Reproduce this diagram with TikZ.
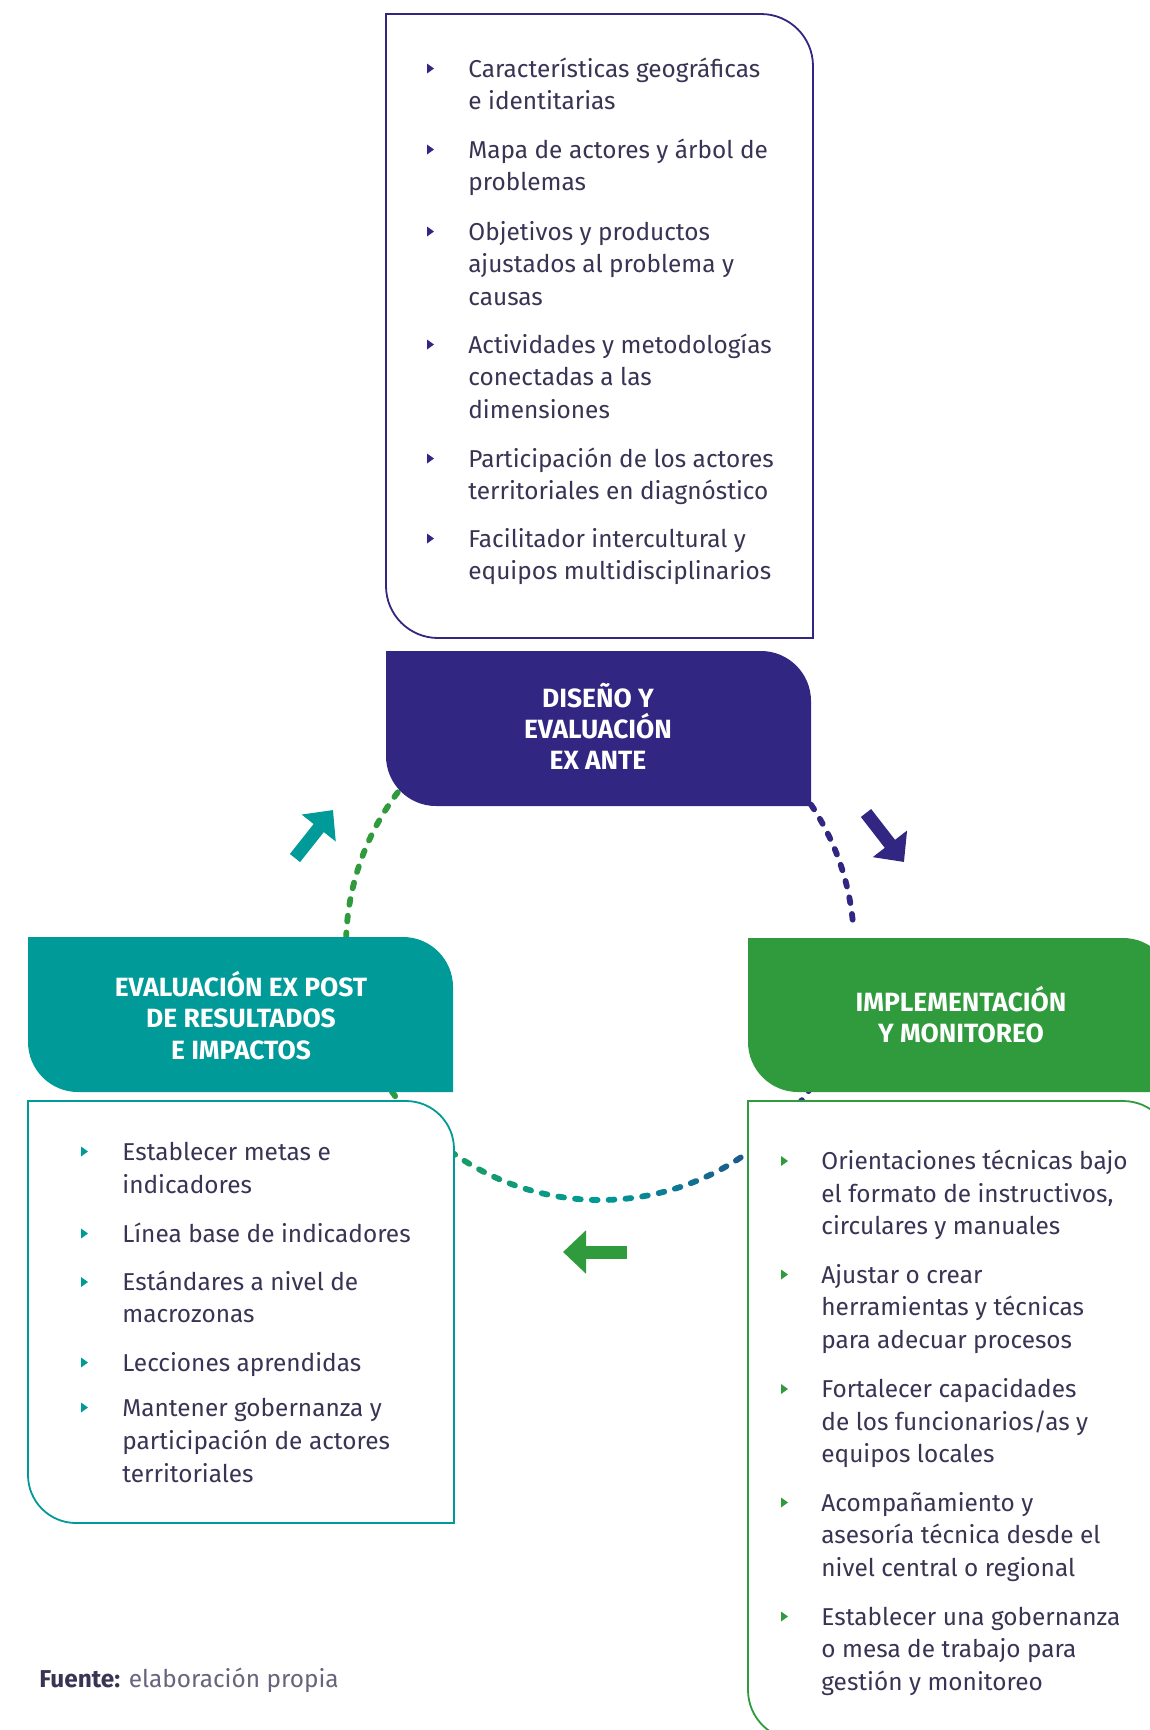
\documentclass[tikz,border=0pt]{standalone}
\usepackage{fontspec}
\setmainfont{Fira Sans}
\usetikzlibrary{calc,arrows.meta}
\definecolor{navyc}{RGB}{49,39,131}
\definecolor{tealc}{RGB}{0,154,152}
\definecolor{greenc}{RGB}{47,155,60}
\definecolor{txtc}{RGB}{58,52,84}
\definecolor{srcc}{RGB}{105,100,125}
\tikzset{
  bodytxt/.style={anchor=base west, inner sep=0pt, text=txtc, font=\fontsize{12.2}{15}\selectfont},
  titletxt/.style={anchor=base, inner sep=0pt, text=white, font=\fontsize{13.2}{15}\selectfont\bfseries},
  bul/.pic={\fill (-3,-5) -- (4,0) -- (-3,5) -- cycle;},
  cbox/.style={fill=white, line width=0.9pt},
  arr/.style={line width=6.5pt, -{Triangle[length=11.5pt,width=21pt]}},
  dotseg/.style={line width=2.9pt, line cap=round}
}
\begin{document}
\begin{tikzpicture}[x=0.5pt,y=-0.5pt]
\useasboundingbox (0,0) rectangle (1150,1730);
\clip (0,0) rectangle (1150,1730);
\fill[white] (0,0) rectangle (1150,1730);

% dotted cycle circle (behind boxes)
\coordinate (cc) at (600,946);
\foreach \a in {0,3.8,...,356.5}{
  \pgfmathsetmacro\ptt{max(0,min(100,(\a-30)/60*100))}
  \pgfmathsetmacro\pgg{max(0,min(100,(\a-90)/60*100))}
  \colorlet{tmpc}{tealc!\ptt!navyc}
  \colorlet{dotc}{greenc!\pgg!tmpc}
  \ifdim\a pt>260pt \colorlet{dotc}{navyc}\fi
  \draw[dotseg, dotc] ($(cc)+({\a-0.65}:254)$) -- ($(cc)+({\a+0.65}:254)$);
}

% top content box
\draw[cbox, draw=navyc] (386,14) -- (761,14) .. controls (789.7,14) and (813,37.3) .. (813,66) -- (813,638) -- (438,638) .. controls (409.3,638) and (386,614.7) .. (386,586) -- cycle;
% DISENO title
\fill[navyc] (386,651) -- (761,651) .. controls (788.6,651) and (811,673.4) .. (811,701) -- (811,806) -- (436,806) .. controls (408.4,806) and (386,783.6) .. (386,756) -- cycle;
% EVAL title
\fill[tealc] (28,937) -- (403,937) .. controls (430.6,937) and (453,959.4) .. (453,987) -- (453,1092) -- (78,1092) .. controls (50.4,1092) and (28,1069.6) .. (28,1042) -- cycle;
% EVAL content
\draw[cbox, draw=tealc] (28,1101) -- (406,1101) .. controls (432.5,1101) and (454,1122.5) .. (454,1149) -- (454,1523) -- (76,1523) .. controls (49.5,1523) and (28,1501.5) .. (28,1475) -- cycle;
% IMPL title
\fill[greenc] (748,938) -- (1123,938) .. controls (1150.6,938) and (1173,960.4) .. (1173,988) -- (1173,1092) -- (798,1092) .. controls (770.4,1092) and (748,1069.6) .. (748,1042) -- cycle;
% IMPL content
\draw[cbox, draw=greenc] (748,1101) -- (1123,1101) .. controls (1150.6,1101) and (1173,1123.4) .. (1173,1151) -- (1173,1740) -- (798,1740) .. controls (770.4,1740) and (748,1717.6) .. (748,1690) -- cycle;

% titles
\node[titletxt] (d1) at (598,707) {DISEÑO Y};
\node[titletxt] (d2) at (598,738) {EVALUACIÓN};
\node[titletxt] (d3) at (598,769) {EX ANTE};
\node[titletxt] (p1) at (241,996) {EVALUACIÓN EX POST};
\node[titletxt] (p2) at (241,1027) {DE RESULTADOS};
\node[titletxt] (p3) at (241,1059) {E IMPACTOS};
\node[titletxt] (m1) at (961,1011.5) {IMPLEMENTACIÓN};
\node[titletxt] (m2) at (961,1042) {Y MONITOREO};

% top list
\foreach \yy in {68.5,149.5,231.5,344.5,458.5,538.5} \pic[color=navyc] at (430,\yy) {bul};
\node[bodytxt] (a1) at (468,77) {Características geográficas};
\node[bodytxt] (a2) at (468,109.5) {e identitarias};
\node[bodytxt] (a3) at (468,158) {Mapa de actores y árbol de};
\node[bodytxt] (a4) at (468,190.5) {problemas};
\node[bodytxt] (a5) at (468,240) {Objetivos y productos};
\node[bodytxt] (a6) at (468,272.5) {ajustados al problema y};
\node[bodytxt] (a7) at (468,305) {causas};
\node[bodytxt] (a8) at (468,353) {Actividades y metodologías};
\node[bodytxt] (a9) at (468,385.5) {conectadas a las};
\node[bodytxt] (a10) at (468,418) {dimensiones};
\node[bodytxt] (a11) at (468,467) {Participación de los actores};
\node[bodytxt] (a12) at (468,499.5) {territoriales en diagnóstico};
\node[bodytxt] (a13) at (468,547) {Facilitador intercultural y};
\node[bodytxt] (a14) at (468,579.5) {equipos multidisciplinarios};

% eval list
\foreach \yy in {1151.5,1233.5,1282,1362.5,1407.5} \pic[color=tealc] at (84,\yy) {bul};
\node[bodytxt] (e1) at (122,1160) {Establecer metas e};
\node[bodytxt] (e2) at (122,1193) {indicadores};
\node[bodytxt] (e3) at (122,1242) {Línea base de indicadores};
\node[bodytxt] (e4) at (122,1290.5) {Estándares a nivel de};
\node[bodytxt] (e5) at (122,1322.5) {macrozonas};
\node[bodytxt] (e6) at (122,1371) {Lecciones aprendidas};
\node[bodytxt] (e7) at (122,1416) {Mantener gobernanza y};
\node[bodytxt] (e8) at (122,1449) {participación de actores};
\node[bodytxt] (e9) at (122,1482) {territoriales};

% impl list
\foreach \yy in {1161,1274.5,1389,1502.5,1616.5} \pic[color=greenc] at (784,\yy) {bul};
\node[bodytxt] (i1) at (821,1169.5) {Orientaciones técnicas bajo};
\node[bodytxt] (i2) at (821,1202) {el formato de instructivos,};
\node[bodytxt] (i3) at (821,1234.5) {circulares y manuales};
\node[bodytxt] (i4) at (821,1283) {Ajustar o crear};
\node[bodytxt] (i5) at (821,1315.5) {herramientas y técnicas};
\node[bodytxt] (i6) at (821,1348) {para adecuar procesos};
\node[bodytxt] (i7) at (821,1397.5) {Fortalecer capacidades};
\node[bodytxt] (i8) at (821,1430) {de los funcionarios/as y};
\node[bodytxt] (i9) at (821,1462.5) {equipos locales};
\node[bodytxt] (i10) at (821,1511) {Acompañamiento y};
\node[bodytxt] (i11) at (821,1543.5) {asesoría técnica desde el};
\node[bodytxt] (i12) at (821,1576) {nivel central o regional};
\node[bodytxt] (i13) at (821,1625) {Establecer una gobernanza};
\node[bodytxt] (i14) at (821,1657.5) {o mesa de trabajo para};
\node[bodytxt] (i15) at (821,1690) {gestión y monitoreo};

% arrows
\coordinate (ta0) at (295,858);
\coordinate (ta1) at (333,810);
\coordinate (na0) at (866,813);
\coordinate (na1) at (904,862);
\coordinate (ga0) at (627,1252);
\coordinate (ga1) at (563,1252);
\draw[arr, tealc] (ta0) -- (ta1);
\draw[arr, navyc] (na0) -- (na1);
\draw[arr, greenc] (ga0) -- (ga1);

% source
\node[anchor=base west, inner sep=0pt, font=\fontsize{12.2}{15}\selectfont] (src) at (39,1687)
  {\textcolor{txtc}{\bfseries Fuente:} \textcolor{srcc}{elaboración propia}};
\end{tikzpicture}
\end{document}
